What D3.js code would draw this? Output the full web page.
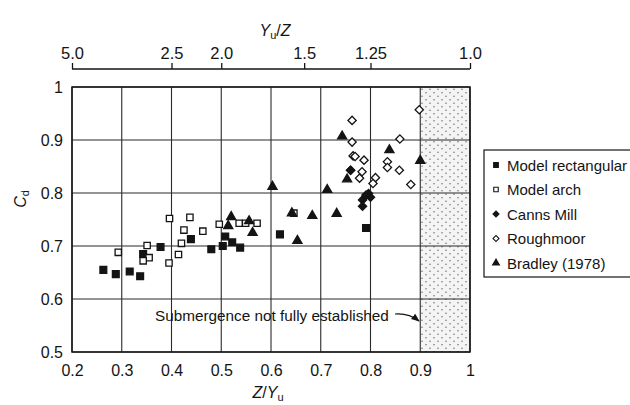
<!DOCTYPE html>
<html><head><meta charset="utf-8">
<script src="https://cdn.jsdelivr.net/npm/d3@7"></script>
<style>
body{margin:0;background:#fff;}
svg{display:block;font-family:"Liberation Sans",Arial,Helvetica,sans-serif;}
</style>
</head><body>
<svg id="c" width="630" height="405"></svg>
<script>
// ---- data ----
const xTicks = [0.2, 0.3, 0.4, 0.5, 0.6, 0.7, 0.8, 0.9, 1.0];
const xTickLabels = ["0.2", "0.3", "0.4", "0.5", "0.6", "0.7", "0.8", "0.9", "1"];
const yTicks = [0.5, 0.6, 0.7, 0.8, 0.9, 1.0];
const yTickLabels = ["0.5", "0.6", "0.7", "0.8", "0.9", "1"];
const topTickValues = [5.0, 2.5, 2.0, 1.5, 1.25, 1.0];
const topTickLabels = ["5.0", "2.5", "2.0", "1.5", "1.25", "1.0"];
const shadedRange = [0.9, 1.0];
const seriesNames = ["Model rectangular", "Model arch", "Canns Mill", "Roughmoor", "Bradley (1978)"];

const modelRectangular = [
  [0.263, 0.655], [0.288, 0.647], [0.316, 0.652], [0.337, 0.643], [0.343, 0.685],
  [0.378, 0.698], [0.439, 0.713], [0.480, 0.694], [0.503, 0.700], [0.508, 0.718],
  [0.522, 0.707], [0.538, 0.697], [0.618, 0.722], [0.791, 0.734]
];
const modelArch = [
  [0.293, 0.688], [0.351, 0.701], [0.355, 0.678], [0.343, 0.672], [0.396, 0.752],
  [0.395, 0.668], [0.414, 0.684], [0.420, 0.705], [0.425, 0.730], [0.437, 0.754],
  [0.463, 0.728], [0.496, 0.741], [0.536, 0.743], [0.549, 0.743], [0.572, 0.743],
  [0.646, 0.762]
];
const cannsMill = [
  [0.760, 0.843], [0.784, 0.787], [0.784, 0.775], [0.796, 0.799], [0.800, 0.792],
  [0.791, 0.796]
];
const roughmoor = [
  [0.898, 0.957], [0.763, 0.937], [0.763, 0.896], [0.859, 0.902], [0.765, 0.870],
  [0.769, 0.869], [0.787, 0.862], [0.834, 0.859], [0.834, 0.848], [0.858, 0.843],
  [0.783, 0.840], [0.778, 0.828], [0.810, 0.829], [0.805, 0.818], [0.881, 0.816],
  [0.760, 0.843]
];
const bradley = [
  [0.603, 0.812], [0.520, 0.755], [0.514, 0.738], [0.556, 0.747], [0.563, 0.725],
  [0.642, 0.762], [0.653, 0.710], [0.683, 0.757], [0.732, 0.761], [0.713, 0.806],
  [0.753, 0.826], [0.743, 0.907], [0.838, 0.881], [0.900, 0.861]
];

// ---- layout ----
const svg = d3.select("#c");
const L = 72, R = 470, T = 87, B = 352;
const x = d3.scaleLinear().domain([0.2, 1.0]).range([L, R]);
const y = d3.scaleLinear().domain([0.5, 1.0]).range([B, T]);
const ink = "#141414";

// stipple pattern
const defs = svg.append("defs");
const pat = defs.append("pattern").attr("id", "stip").attr("patternUnits", "userSpaceOnUse")
  .attr("width", 8).attr("height", 7);
pat.append("rect").attr("width", 8).attr("height", 7).attr("fill", "#f4f4f4");
pat.append("circle").attr("cx", 2).attr("cy", 1.75).attr("r", 0.8).attr("fill", "#777");
pat.append("circle").attr("cx", 6).attr("cy", 5.25).attr("r", 0.8).attr("fill", "#777");
defs.append("marker").attr("id", "arr").attr("viewBox", "0 0 10 10").attr("refX", 9).attr("refY", 5)
  .attr("markerWidth", 7).attr("markerHeight", 7).attr("orient", "auto")
  .append("path").attr("d", "M0,1 L10,5 L0,9 Z").attr("fill", ink);

// shaded region
svg.append("rect").attr("x", x(shadedRange[0])).attr("y", T)
  .attr("width", x(shadedRange[1]) - x(shadedRange[0])).attr("height", B - T)
  .attr("fill", "url(#stip)");

// grid
svg.append("g").selectAll("line").data(xTicks).join("line")
  .attr("x1", d => x(d)).attr("x2", d => x(d)).attr("y1", T).attr("y2", B)
  .attr("stroke", "#2a2a2a").attr("stroke-width", 1.1);
svg.append("g").selectAll("line").data(yTicks).join("line")
  .attr("x1", L).attr("x2", R).attr("y1", d => y(d)).attr("y2", d => y(d))
  .attr("stroke", "#2a2a2a").attr("stroke-width", 1.1);
svg.append("rect").attr("x", L).attr("y", T).attr("width", R - L).attr("height", B - T)
  .attr("fill", "none").attr("stroke", ink).attr("stroke-width", 1.5);

// bottom axis (labels only)
const xAxis = d3.axisBottom(x).tickValues(xTicks).tickSize(0).tickPadding(0)
  .tickFormat((d, i) => xTickLabels[i]);
const gx = svg.append("g").attr("transform", `translate(0,${B + 13})`).call(xAxis);
gx.select(".domain").remove();
gx.selectAll("text").attr("font-size", 16).attr("fill", ink).attr("font-family", null);

// left axis (labels only)
const yAxis = d3.axisLeft(y).tickValues(yTicks).tickSize(0).tickPadding(0)
  .tickFormat((d, i) => yTickLabels[i]);
const gy = svg.append("g").attr("transform", `translate(${L - 9},0)`).call(yAxis);
gy.select(".domain").remove();
gy.selectAll("text").attr("font-size", 16).attr("fill", ink).attr("font-family", null);

// top axis Yu/Z
const topAxis = d3.axisTop(x).tickValues(topTickValues.map(v => 1 / v)).tickSize(6).tickSizeOuter(0)
  .tickPadding(4).tickFormat((d, i) => topTickLabels[i]);
const gt = svg.append("g").attr("transform", `translate(0,69)`).call(topAxis);
gt.select(".domain").attr("stroke", ink).attr("stroke-width", 1.3).attr("d", `M${L},0 L${R},0`);
gt.selectAll(".tick line").attr("stroke", ink).attr("stroke-width", 1.3);
gt.selectAll("text").attr("font-size", 16.5).attr("fill", ink).attr("font-family", null);

// axis titles
const tTop = svg.append("text").attr("x", 275).attr("y", 36).attr("text-anchor", "middle")
  .attr("font-size", 16).attr("fill", ink);
tTop.append("tspan").attr("font-style", "italic").text("Y");
tTop.append("tspan").attr("font-size", 11).attr("dy", 3).text("u");
tTop.append("tspan").attr("dy", -3).text("/");
tTop.append("tspan").attr("font-style", "italic").text("Z");

const tBot = svg.append("text").attr("x", 268).attr("y", 398).attr("text-anchor", "middle")
  .attr("font-size", 16).attr("fill", ink);
tBot.append("tspan").attr("font-style", "italic").text("Z");
tBot.append("tspan").text("/");
tBot.append("tspan").attr("font-style", "italic").text("Y");
tBot.append("tspan").attr("font-size", 11).attr("dy", 3).text("u");

const tLeft = svg.append("text").attr("transform", "translate(26,199) rotate(-90)")
  .attr("text-anchor", "middle").attr("font-size", 16).attr("fill", ink);
tLeft.append("tspan").attr("font-style", "italic").text("C");
tLeft.append("tspan").attr("font-size", 11).attr("dy", 3).text("d");

// annotation
svg.append("text").attr("x", 155).attr("y", 321).attr("font-size", 15.3).attr("fill", ink)
  .text("Submergence not fully established");
svg.append("path").attr("d", "M395,314 Q409,313 419,321").attr("fill", "none")
  .attr("stroke", ink).attr("stroke-width", 1.2).attr("marker-end", "url(#arr)");

// markers
const sq = d3.symbol().type(d3.symbolSquare).size(46)();
const di = d3.symbol().type(d3.symbolSquare).size(34)();
const tri = d3.symbol().type(d3.symbolTriangle).size(36)();
const styles = [
  {data: modelRectangular, path: sq, rot: 0, fill: ink},
  {data: modelArch, path: d3.symbol().type(d3.symbolSquare).size(40)(), rot: 0, fill: "#fff"},
  {data: roughmoor, path: di, rot: 45, fill: "#fff"},
  {data: cannsMill, path: di, rot: 45, fill: ink},
  {data: bradley, path: tri, rot: 0, fill: ink}
];
styles.forEach(s => {
  svg.append("g").selectAll("path").data(s.data).join("path")
    .attr("d", s.path)
    .attr("transform", d => `translate(${x(d[0])},${y(d[1])}) rotate(${s.rot})`)
    .attr("fill", s.fill).attr("stroke", ink).attr("stroke-width", 1.3);
});

// legend
svg.append("rect").attr("x", 484).attr("y", 150).attr("width", 170).attr("height", 127)
  .attr("fill", "#fff").attr("stroke", ink).attr("stroke-width", 1.2);
const legendMarks = [
  {path: d3.symbol().type(d3.symbolSquare).size(22)(), rot: 0, fill: ink},
  {path: d3.symbol().type(d3.symbolSquare).size(20)(), rot: 0, fill: "#fff"},
  {path: d3.symbol().type(d3.symbolSquare).size(18)(), rot: 45, fill: ink},
  {path: d3.symbol().type(d3.symbolSquare).size(18)(), rot: 45, fill: "#fff"},
  {path: d3.symbol().type(d3.symbolTriangle).size(20)(), rot: 0, fill: ink}
];
const ly = d3.scalePoint().domain(seriesNames).range([165, 263]);
const lg = svg.append("g").selectAll("g").data(seriesNames).join("g")
  .attr("transform", d => `translate(0,${ly(d)})`);
lg.append("path").attr("d", (d, i) => legendMarks[i].path)
  .attr("transform", (d, i) => `translate(496,0) rotate(${legendMarks[i].rot})`)
  .attr("fill", (d, i) => legendMarks[i].fill).attr("stroke", ink).attr("stroke-width", 1.1);
lg.append("text").attr("x", 507).attr("y", 5.5).attr("font-size", 15).attr("fill", ink).text(d => d);
</script>
</body></html>
